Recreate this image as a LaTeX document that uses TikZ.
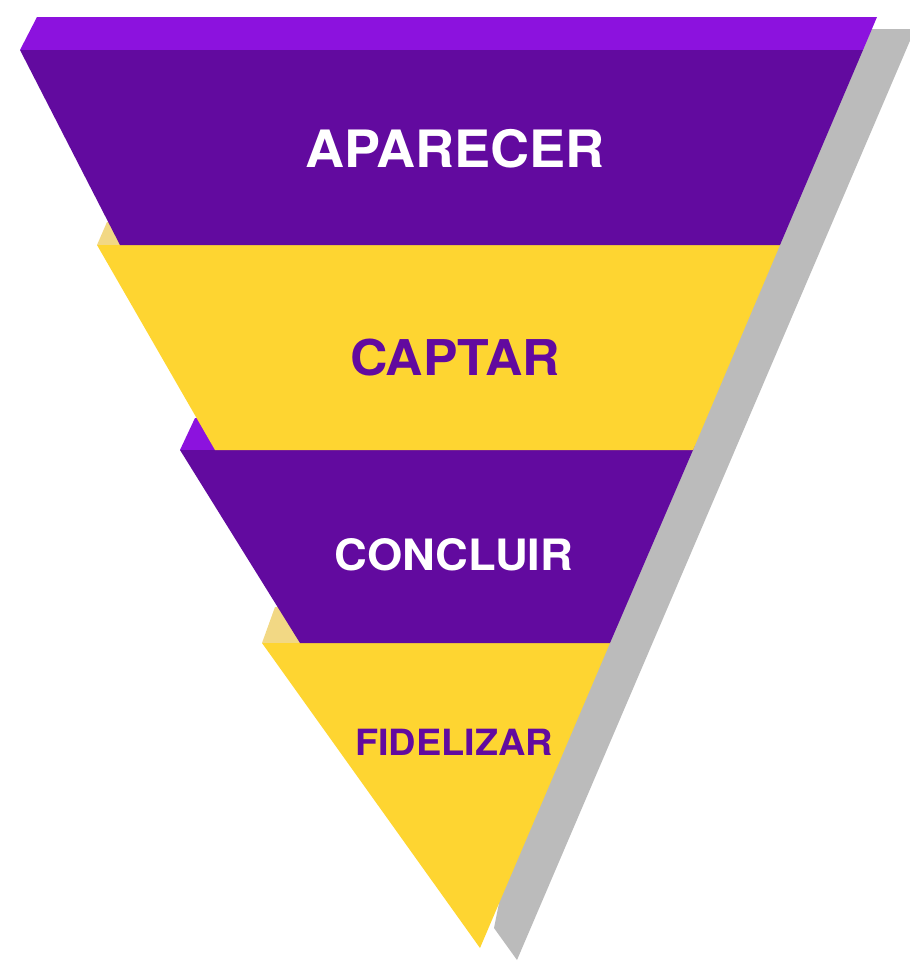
\documentclass[tikz,border=0pt]{standalone}
\usepackage{fontspec}
\setmainfont{TeX Gyre Heros}[FakeStretch=1.05]
\usepackage{tikz}

\definecolor{funneldeep}{HTML}{620A9F}
\definecolor{funnelface}{HTML}{8C12DE}
\definecolor{funnelgold}{HTML}{FED531}
\definecolor{funnelpale}{HTML}{F2D884}
\definecolor{funnelshade}{HTML}{BBBBBB}

\begin{document}
\begin{tikzpicture}[x=1pt, y=-1pt,
		deep/.style = {fill=funneldeep},
		face/.style = {fill=funnelface},
		gold/.style = {fill=funnelgold},
		pale/.style = {fill=funnelpale},
		light/.style = {text=white, font=\fontsize{#1}{#1}\selectfont\bfseries},
		dark/.style = {text=funneldeep, font=\fontsize{#1}{#1}\selectfont\bfseries}]
			\useasboundingbox (0,0) rectangle (910,962);
			\clip (0,0) rectangle (910,962);
			
			% shadow
			\fill[funnelshade] (860,29) -- (915,29) -- (517,960) -- (494,928) -- (600,400) -- cycle;
			
			% bottom layer first
			\fill[pale] (275,607) -- (622,607) -- (610,643) -- (262,643) -- cycle;
			\fill[gold] (262,643) -- (610,643) -- (480,948) -- cycle;
			\fill[face] (195,418) -- (704,418) -- (693,450) -- (180,450) -- cycle;
			\fill[deep] (180,450) -- (693,450) -- (610,643) -- (300,643) -- cycle;
			\fill[pale] (107,222) -- (787,222) -- (780,245) -- (97,245) -- cycle;
			\fill[gold] (97,245) -- (780,245) -- (693,450) -- (215,450) -- cycle;
			\fill[face] (37,17) -- (877,17) -- (863,50) -- (20,50) -- cycle;
			\fill[deep] (20,50) -- (863,50) -- (780,245) -- (120,245) -- cycle;
			
			\node[light=51.5] (1) at (455,149) {APARECER};
			\node[dark=49.3] (2) at (455,358) {CAPTAR};
			\node[light=43.2] (3) at (454,555) {CONCLUIR};
			\node[dark=36.1] (4) at (454,742) {FIDELIZAR};
		\end{tikzpicture}
\end{document}
